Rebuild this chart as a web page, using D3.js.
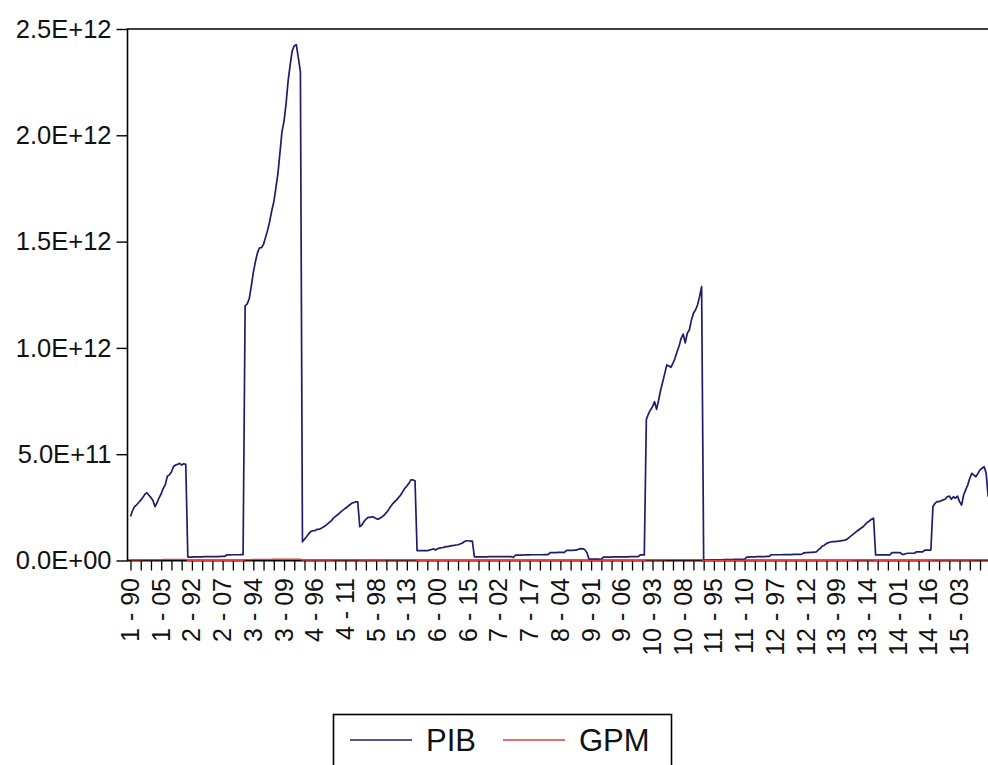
<!DOCTYPE html>
<html>
<head>
<meta charset="utf-8">
<script src="https://cdn.jsdelivr.net/npm/d3@7"></script>
<style>
body { margin: 0; background: #fff; }
svg { display: block; }
</style>
</head>
<body>
<div id="chart"></div>
<script>
// panel: 15 cross-sections x 1990-2017
var sections = d3.range(1, 16)
var years = d3.range(1990, 2018)

// PIB, in units of 1E+12, one row per cross-section
var pib1 = [0.207,0.235,0.253,0.262,0.273,0.284,0.296,0.311,0.319,0.307,0.296,0.281,0.253,0.273,0.296,0.314,0.339,0.357,0.396,0.403,0.416,0.442,0.449,0.452,0.457,0.449,0.455,0.452]
var pib2 = [0.016,0.016,0.016,0.017,0.017,0.017,0.017,0.017,0.018,0.018,0.018,0.018,0.018,0.018,0.018,0.018,0.019,0.019,0.019,0.026,0.026,0.026,0.027,0.027,0.027,0.027,0.028,0.028]
var pib3 = [1.198,1.207,1.231,1.289,1.355,1.405,1.446,1.471,1.471,1.488,1.521,1.554,1.595,1.645,1.686,1.752,1.818,1.917,2.017,2.066,2.149,2.256,2.331,2.397,2.421,2.426,2.364,2.298]
var pib4 = [0.088,0.100,0.112,0.125,0.136,0.140,0.140,0.146,0.146,0.151,0.156,0.162,0.170,0.178,0.186,0.198,0.206,0.214,0.222,0.231,0.238,0.246,0.253,0.261,0.269,0.272,0.276,0.276]
var pib5 = [0.159,0.167,0.183,0.194,0.203,0.203,0.206,0.203,0.197,0.194,0.200,0.206,0.214,0.225,0.238,0.253,0.266,0.276,0.285,0.297,0.308,0.324,0.340,0.350,0.363,0.379,0.379,0.375]
var pib6 = [0.046,0.046,0.046,0.046,0.046,0.046,0.049,0.052,0.055,0.049,0.055,0.058,0.060,0.062,0.065,0.065,0.068,0.070,0.071,0.073,0.074,0.078,0.081,0.088,0.093,0.093,0.091,0.091]
var pib7 = [0.017,0.017,0.017,0.017,0.017,0.017,0.017,0.018,0.018,0.018,0.018,0.018,0.018,0.018,0.018,0.018,0.018,0.018,0.018,0.014,0.025,0.025,0.025,0.025,0.026,0.026,0.026,0.026]
var pib8 = [0.027,0.027,0.027,0.027,0.027,0.027,0.028,0.028,0.028,0.037,0.037,0.037,0.037,0.038,0.038,0.038,0.038,0.048,0.048,0.048,0.048,0.049,0.049,0.054,0.056,0.055,0.050,0.036]
var pib9 = [0.006,0.006,0.006,0.006,0.006,0.006,0.007,0.016,0.016,0.016,0.016,0.016,0.017,0.017,0.017,0.017,0.017,0.017,0.017,0.017,0.018,0.018,0.018,0.018,0.018,0.026,0.026,0.026]
var pib10 = [0.664,0.689,0.708,0.723,0.747,0.711,0.755,0.802,0.841,0.880,0.920,0.915,0.909,0.928,0.951,0.982,1.009,1.045,1.065,1.024,1.069,1.084,1.131,1.163,1.178,1.202,1.241,1.288]
var pib11 = [0.002,0.002,0.002,0.002,0.003,0.003,0.003,0.003,0.003,0.003,0.004,0.004,0.004,0.004,0.004,0.005,0.005,0.005,0.005,0.005,0.006,0.016,0.016,0.017,0.017,0.017,0.018,0.018]
var pib12 = [0.018,0.018,0.018,0.019,0.019,0.027,0.027,0.027,0.027,0.027,0.027,0.028,0.028,0.028,0.028,0.028,0.029,0.029,0.029,0.029,0.030,0.036,0.037,0.037,0.038,0.038,0.039,0.040]
var pib13 = [0.050,0.057,0.068,0.072,0.080,0.084,0.087,0.089,0.089,0.090,0.091,0.092,0.094,0.096,0.100,0.108,0.116,0.123,0.131,0.139,0.146,0.153,0.160,0.170,0.180,0.186,0.194,0.199]
var pib14 = [0.026,0.026,0.026,0.026,0.026,0.026,0.026,0.026,0.037,0.037,0.037,0.037,0.037,0.029,0.029,0.033,0.034,0.034,0.034,0.034,0.041,0.041,0.041,0.041,0.049,0.049,0.049,0.049]
var pib15 = [0.253,0.269,0.277,0.277,0.281,0.285,0.288,0.300,0.303,0.288,0.300,0.293,0.303,0.277,0.261,0.308,0.332,0.355,0.387,0.410,0.402,0.394,0.410,0.426,0.434,0.441,0.410,0.300]

// GPM, in units of 1E+09
var gpm1 = [3,3,3,3,3,3,4,4,4,4,4,4,4,4,4,4,5,5,5,5,5,5,5,5,5,5,5,5]
var gpm2 = [1,1,1,1,1,1,1,1,1,1,1,1,1,1,1,1,1,1,1,1,1,1,1,1,1,1,1,1]
var gpm3 = [4,4,4,4,5,5,5,5,5,5,5,5,5,5,6,6,6,6,6,6,6,6,6,6,6,6,6,6]
var gpm4 = [2,2,2,2,2,2,2,2,2,2,2,2,2,2,2,3,3,3,3,3,3,3,3,3,3,3,3,3]
var gpm5 = [2,2,2,2,2,2,2,2,2,2,2,2,2,3,3,3,3,3,3,3,3,3,3,3,3,3,3,3]
var gpm6 = [1,1,1,1,1,1,1,1,1,1,1,1,1,1,1,1,1,1,1,1,1,1,1,1,1,1,1,1]
var gpm7 = [1,1,1,1,1,1,1,1,1,1,1,1,1,1,1,1,1,1,1,1,1,1,1,1,1,1,1,1]
var gpm8 = [1,1,1,1,1,1,1,1,1,1,1,1,1,1,1,1,1,1,1,1,1,1,1,1,1,1,1,1]
var gpm9 = [1,1,1,1,1,1,1,1,1,1,1,1,1,1,1,1,1,1,1,1,1,1,1,1,1,1,1,1]
var gpm10 = [3,3,3,3,3,3,3,3,3,3,4,4,4,4,4,4,4,4,4,4,4,4,4,4,4,4,4,4]
var gpm11 = [1,1,1,1,1,1,1,1,1,1,1,1,1,1,1,1,1,1,1,1,1,1,1,1,1,1,1,1]
var gpm12 = [1,1,1,1,1,1,1,1,1,1,1,1,1,1,1,1,1,1,1,1,1,1,1,1,1,1,1,1]
var gpm13 = [1,1,1,1,1,1,1,1,1,1,1,1,1,1,1,1,1,2,2,2,2,2,2,2,2,2,2,2]
var gpm14 = [1,1,1,1,1,1,1,1,1,1,1,1,1,1,1,1,1,1,1,1,1,1,1,1,1,1,1,1]
var gpm15 = [2,2,2,2,2,2,2,2,2,2,2,2,2,2,2,2,2,2,2,2,3,3,3,3,3,3,3,3]

var yTicks = [0, 0.5e12, 1.0e12, 1.5e12, 2.0e12, 2.5e12]
var seriesNames = ["PIB", "GPM"]
var seriesColors = ["#1d1d6b", "#e03a3a"]

var pibRows = [pib1,pib2,pib3,pib4,pib5,pib6,pib7,pib8,pib9,pib10,pib11,pib12,pib13,pib14,pib15]
var gpmRows = [gpm1,gpm2,gpm3,gpm4,gpm5,gpm6,gpm7,gpm8,gpm9,gpm10,gpm11,gpm12,gpm13,gpm14,gpm15]

// flatten the panel into one stacked series
var obs = []
sections.forEach((s, i) => {
    years.forEach((yr, j) => {
        obs.push({
            label: s + " - " + String(yr).slice(2),
            pib: pibRows[i][j] * 1e12,
            gpm: gpmRows[i][j] * 1e9
        })
    })
})
obs.forEach((d, i) => d.i = i)

var width = 988, height = 765

var x = d3.scaleLinear().domain([0, obs.length - 1]).range([130.5, 988.2])
var y = d3.scaleLinear().domain([0, 2.5e12]).range([560.5, 29])

var sciFormat = v => {
    var s = d3.format(".1e")(v).toUpperCase()   // e.g. 2.5E+12, 0.0E+0
    return s.replace(/E([+-])(\d)$/, "E$10$2")
}

var svg = d3.select("#chart").append("svg")
    .attr("width", width)
    .attr("height", height)
    .style("font-family", "'Liberation Sans', Arial, sans-serif")

// frame (left + top), right side runs off the picture
svg.append("path")
    .attr("d", `M127.5,560.5V29H${width + 5}`)
    .attr("fill", "none")
    .attr("stroke", "#000")
    .attr("stroke-width", 1.6)

var yAxis = svg.append("g")
    .attr("transform", "translate(127.5,0)")
    .call(d3.axisLeft(y).tickValues(yTicks).tickSize(11).tickPadding(5).tickFormat(sciFormat))
yAxis.select(".domain").remove()
yAxis.selectAll("line").attr("stroke", "#000").attr("stroke-width", 1.4)
yAxis.selectAll("text")
    .attr("font-size", 25.5)
    .attr("fill", "#111")
    .attr("font-family", "'Liberation Sans', Arial, sans-serif")

var xAxis = svg.append("g")
    .attr("transform", "translate(0,560.5)")
    .call(d3.axisBottom(x).tickValues(d3.range(0, obs.length, 5)).tickSize(10).tickFormat(""))
xAxis.select(".domain").remove()
xAxis.selectAll("line").attr("stroke", "#000").attr("stroke-width", 1.3)

svg.append("line")
    .attr("x1", 127).attr("x2", width + 5)
    .attr("y1", 560.5).attr("y2", 560.5)
    .attr("stroke", "#000").attr("stroke-width", 2)

svg.append("g")
    .selectAll("text")
    .data(obs.filter(d => d.i % 15 == 0))
    .enter().append("text")
    .attr("transform", d => `translate(${x(d.i) + 8.5},578) rotate(-90)`)
    .attr("text-anchor", "end")
    .attr("font-size", 25)
    .attr("fill", "#111")
    .text(d => d.label)

var line = key => d3.line()
    .x(d => x(d.i))
    .y(d => y(d[key]))

svg.append("path")
    .datum(obs)
    .attr("d", line("pib"))
    .attr("fill", "none")
    .attr("stroke", seriesColors[0])
    .attr("stroke-width", 1.7)
    .attr("stroke-linejoin", "round")

svg.append("path")
    .datum(obs)
    .attr("d", line("gpm"))
    .attr("fill", "none")
    .attr("stroke", seriesColors[1])
    .attr("stroke-width", 1.2)

// legend
var legend = svg.append("g")
legend.append("rect")
    .attr("x", 333.5).attr("y", 714.5)
    .attr("width", 338).attr("height", 70)
    .attr("fill", "#fff")
    .attr("stroke", "#000")
    .attr("stroke-width", 1.6)

var legendX = [350, 503]
seriesNames.forEach((name, k) => {
    legend.append("line")
        .attr("x1", legendX[k]).attr("x2", legendX[k] + 62)
        .attr("y1", 740).attr("y2", 740)
        .attr("stroke", seriesColors[k])
        .attr("stroke-width", 1.4)
    legend.append("text")
        .attr("x", legendX[k] + 76).attr("y", 751)
        .attr("font-size", 31)
        .attr("fill", "#111")
        .text(name)
})
</script>
</body>
</html>
